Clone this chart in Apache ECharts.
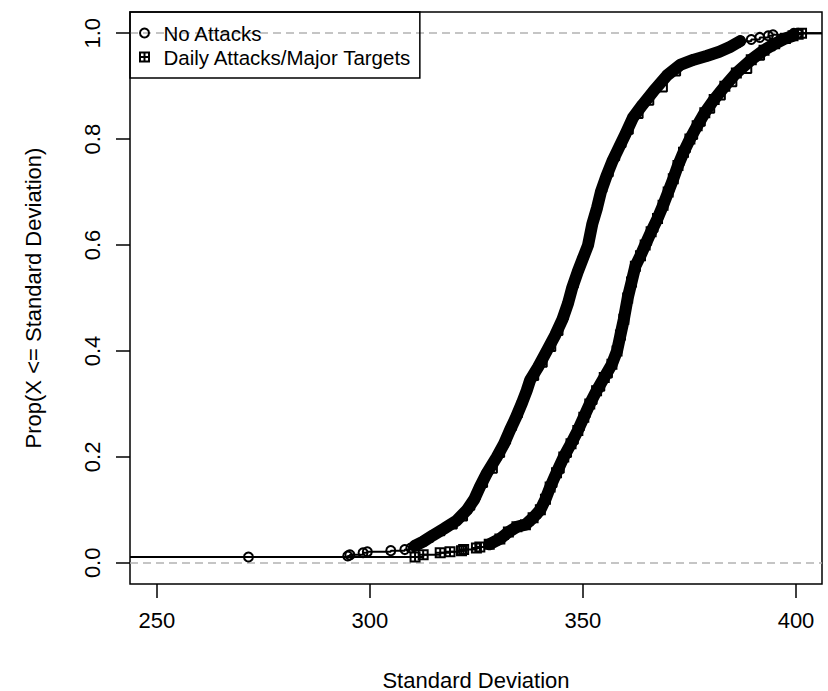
<!DOCTYPE html>
<html>
<head>
<meta charset="utf-8">
<title>ECDF of standard deviation</title>
<script src="https://cdn.jsdelivr.net/npm/echarts@6/dist/echarts.min.js"></script>
<style>
  html, body { margin: 0; padding: 0; background: #fff; }
  #chart { width: 828px; height: 691px; }
</style>
</head>
<body>
<div id="chart"></div>
<script>
// tick positions on both axes
const xTicks = [250, 300, 350, 400]
const yTicks = [0, 0.2, 0.4, 0.6, 0.8, 1.0]

// No Attacks: points (standard deviation, proportion)
const noAttackX = [271.5, 294.8, 295.3, 298.4, 299.4, 304.9, 308.2, 309.6,
  310.5, 312.5, 314.8, 317.5, 320.4, 322.8, 324.5, 325.8, 327.5, 329.8,
  331.5, 332.9, 334.3, 335.7, 336.8, 337.6, 339.5, 341.5, 343.5, 345.2,
  346.5, 347.5, 348.8, 350.0, 351.2, 352.2, 353.3, 354.2, 355.5, 357.0,
  358.5, 360.0, 361.7, 364.0, 366.5, 369.7, 372.8, 376.0, 379.0, 382.0,
  384.5, 386.9, 389.5, 391.5, 393.5, 394.6, 399.5, 400.5]
const noAttackY = [0.011, 0.013, 0.015, 0.019, 0.021, 0.023, 0.025, 0.028,
  0.032, 0.040, 0.052, 0.065, 0.080, 0.100, 0.120, 0.143, 0.170, 0.200,
  0.225, 0.251, 0.275, 0.302, 0.325, 0.345, 0.370, 0.400, 0.430, 0.460,
  0.490, 0.520, 0.550, 0.575, 0.600, 0.640, 0.670, 0.700, 0.730, 0.760,
  0.785, 0.810, 0.840, 0.865, 0.890, 0.920, 0.940, 0.950, 0.957, 0.965,
  0.974, 0.985, 0.988, 0.992, 0.995, 0.997, 1.000, 1.000]

// Daily Attacks/Major Targets: points
const dailyX = [310.6, 312.5, 316.5, 318.8, 321.5, 322.0, 325.0, 325.8,
  328.0, 330.5, 332.5, 334.5, 336.5, 338.3, 340.0, 341.2, 342.3, 343.8,
  345.5, 347.2, 348.8, 350.2, 351.6, 353.2, 355.0, 356.8, 358.0, 358.8,
  359.6, 360.5, 361.4, 362.3, 363.5, 364.6, 366.0, 367.5, 368.8, 370.0,
  371.2, 372.3, 373.6, 375.1, 376.8, 378.6, 380.8, 383.3, 386.0, 389.5,
  392.5, 395.0, 397.5, 399.3, 400.5, 401.3]
const dailyY = [0.011, 0.015, 0.019, 0.021, 0.023, 0.025, 0.028, 0.030,
  0.035, 0.045, 0.058, 0.068, 0.072, 0.085, 0.100, 0.120, 0.143, 0.170,
  0.200, 0.225, 0.250, 0.275, 0.300, 0.325, 0.350, 0.375, 0.400, 0.430,
  0.460, 0.500, 0.530, 0.560, 0.580, 0.600, 0.625, 0.650, 0.675, 0.700,
  0.725, 0.750, 0.775, 0.800, 0.825, 0.850, 0.875, 0.900, 0.925, 0.950,
  0.968, 0.980, 0.990, 0.995, 0.998, 1.000]

const xMin = 243.7
const xMax = 406.1
const font = '"Liberation Sans", Arial, sans-serif'
const squareIcon = 'path://M0,0H10V10H0ZM5,0V10M0,5H10'

function pairs (xs, ys) {
  return xs.map((x, i) => [x, ys[i]])
}
// step line that runs on to the plot edges, like plot.ecdf
function stepData (xs, ys) {
  return [{ value: [xMin, ys[0]], symbol: 'none' }]
    .concat(pairs(xs, ys))
    .concat([{ value: [xMax, ys[ys.length - 1]], symbol: 'none' }])
}
// the dense part of the curve where the markers merge into a solid band
function bandData (xs, ys, lo, hi) {
  return pairs(xs, ys).filter(p => p[1] >= lo && p[1] <= hi)
}

function markerSeries (name, xs, ys, symbol) {
  return {
    name: name,
    type: 'line',
    step: 'end',
    data: stepData(xs, ys),
    symbol: symbol,
    symbolSize: 9,
    showAllSymbol: true,
    itemStyle: { color: 'rgba(0,0,0,0)', borderColor: '#000', borderWidth: 2 },
    lineStyle: { color: '#000', width: 2 },
    z: 3
  }
}
function bandSeries (name, xs, ys, lo, hi) {
  return {
    name: name,
    type: 'line',
    data: bandData(xs, ys, lo, hi),
    symbol: 'none',
    lineStyle: { color: '#000', width: 12, cap: 'round', join: 'round' },
    silent: true,
    z: 2
  }
}

const chart = echarts.init(document.getElementById('chart'), null, { renderer: 'svg' })
chart.setOption({
  animation: false,
  backgroundColor: '#fff',
  textStyle: { fontFamily: font },
  grid: {
    left: 130, right: 6, top: 12, bottom: 107,
    outerBoundsMode: 'none',
    show: true, borderColor: '#000', borderWidth: 1.5, backgroundColor: 'transparent'
  },
  legend: {
    orient: 'vertical',
    left: 130,
    top: 12,
    padding: [9, 8, 9, 9],
    itemGap: 0,
    itemWidth: 28,
    itemHeight: 9,
    borderColor: '#000',
    borderWidth: 1.5,
    selectedMode: false,
    textStyle: { fontSize: 20.5, lineHeight: 24, color: '#000', fontFamily: font },
    itemStyle: { color: 'rgba(0,0,0,0)', borderColor: '#000', borderWidth: 2 },
    data: [
      { name: 'No Attacks', icon: 'circle' },
      { name: 'Daily Attacks/Major Targets', icon: squareIcon }
    ]
  },
  xAxis: {
    type: 'value',
    min: xMin,
    max: xMax,
    name: 'Standard Deviation',
    nameLocation: 'middle',
    nameGap: 85,
    nameTextStyle: { fontSize: 22, color: '#000', fontFamily: font },
    axisLine: { show: false, onZero: false },
    axisTick: { show: true, customValues: xTicks, length: 14, lineStyle: { color: '#000', width: 1.5 } },
    axisLabel: { customValues: xTicks, fontSize: 22, color: '#000', margin: 25, fontFamily: font },
    splitLine: { show: false }
  },
  yAxis: {
    type: 'value',
    min: -0.04,
    max: 1.04,
    name: 'Prop(X <= Standard Deviation)',
    nameLocation: 'middle',
    nameGap: 86,
    nameTextStyle: { fontSize: 22, color: '#000', fontFamily: font },
    axisLine: { show: false, onZero: false },
    axisTick: { show: true, customValues: yTicks, length: 14, lineStyle: { color: '#000', width: 1.5 } },
    axisLabel: {
      customValues: yTicks,
      rotate: 90,
      fontSize: 22,
      color: '#000',
      margin: 27,
      fontFamily: font,
      formatter: v => v.toFixed(1)
    },
    splitLine: { show: false }
  },
  series: [
    Object.assign(markerSeries('No Attacks', noAttackX, noAttackY, 'circle'), {
      markLine: {
        silent: true,
        symbol: 'none',
        label: { show: false },
        lineStyle: { color: '#b3b3b3', type: [8, 5], width: 1.5 },
        data: [{ yAxis: 0 }, { yAxis: 1 }],
        z: 1
      }
    }),
    markerSeries('Daily Attacks/Major Targets', dailyX, dailyY, squareIcon),
    bandSeries('No Attacks band', noAttackX, noAttackY, 0.03, 0.986),
    bandSeries('Daily band', dailyX, dailyY, 0.033, 0.996)
  ]
})
</script>
</body>
</html>
